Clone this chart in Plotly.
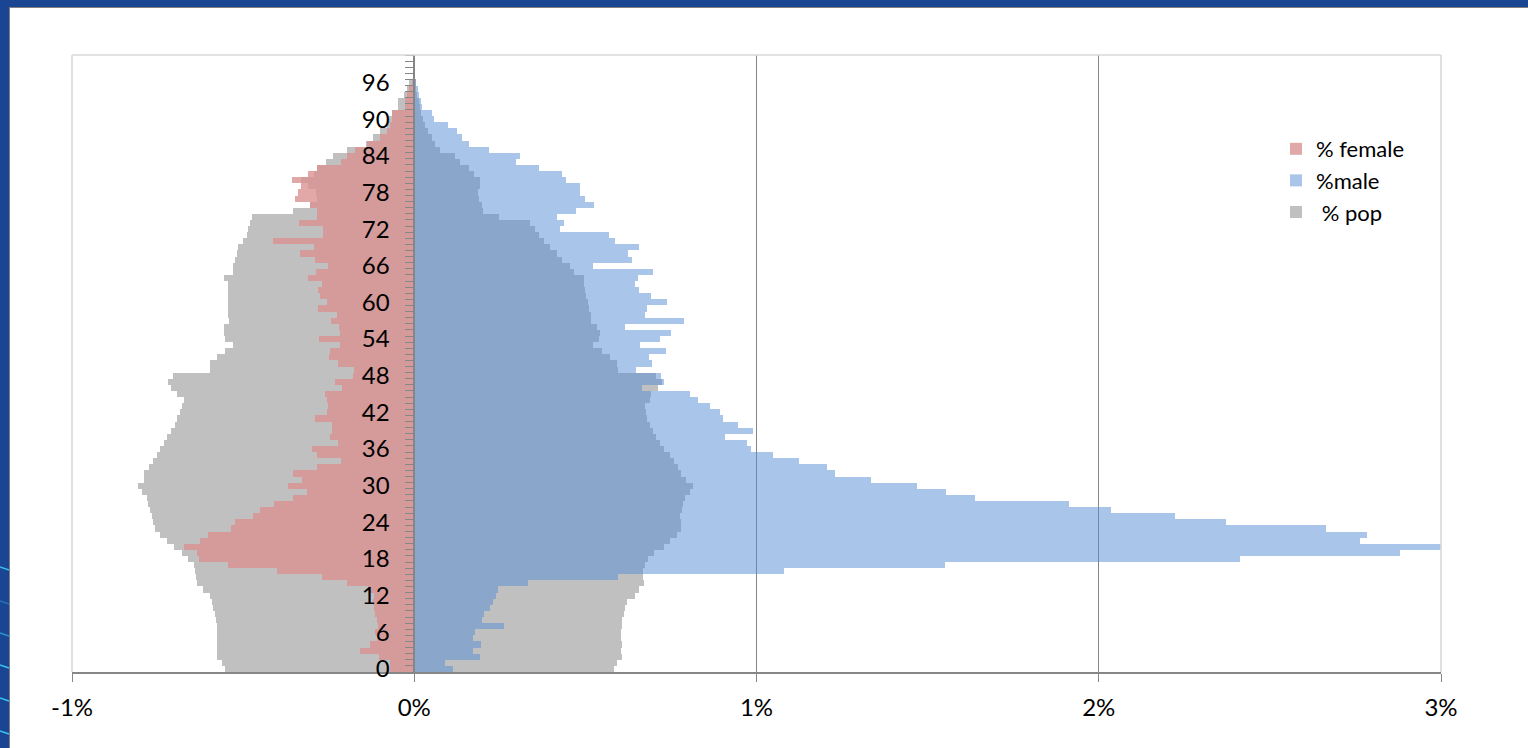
import plotly.graph_objects as go

# ---------------- data (percent of population, by single year of age) ----------------
ages = list(range(0, 101))

pct_female = [0.070, 0.070, 0.104, 0.158, 0.129, 0.109, 0.114, 0.107, 0.109, 0.114,
              0.119, 0.121, 0.119, 0.134, 0.197, 0.270, 0.402, 0.543, 0.628, 0.635,
              0.672, 0.626, 0.604, 0.535, 0.525, 0.470, 0.452, 0.411, 0.353, 0.312,
              0.369, 0.328, 0.353, 0.285, 0.214, 0.285, 0.299, 0.224, 0.246, 0.241,
              0.239, 0.289, 0.255, 0.252, 0.255, 0.260, 0.210, 0.233, 0.180, 0.177,
              0.224, 0.248, 0.246, 0.216, 0.278, 0.216, 0.221, 0.243, 0.226, 0.280,
              0.255, 0.275, 0.280, 0.270, 0.309, 0.287, 0.252, 0.290, 0.333, 0.294,
              0.414, 0.267, 0.267, 0.338, 0.285, 0.285, 0.304, 0.348, 0.340, 0.330,
              0.356, 0.310, 0.285, 0.215, 0.197, 0.172, 0.138, 0.100, 0.080, 0.070,
              0.065, 0.065, 0.026, 0.026, 0.020, 0.014, 0.007, 0.003, 0.0, 0.0, 0.0]

pct_male = [0.113, 0.091, 0.193, 0.171, 0.196, 0.171, 0.178, 0.261, 0.198, 0.203,
            0.220, 0.229, 0.239, 0.245, 0.332, 0.596, 1.081, 1.551, 2.414, 2.880,
            3.008, 2.762, 2.784, 2.665, 2.373, 2.223, 2.037, 1.914, 1.638, 1.553,
            1.468, 1.334, 1.230, 1.205, 1.123, 1.047, 0.984, 0.973, 0.908, 0.989,
            0.946, 0.902, 0.892, 0.865, 0.829, 0.807, 0.666, 0.729, 0.721, 0.649,
            0.695, 0.685, 0.736, 0.660, 0.717, 0.751, 0.615, 0.788, 0.673, 0.680,
            0.739, 0.692, 0.656, 0.644, 0.654, 0.697, 0.522, 0.635, 0.624, 0.656,
            0.588, 0.568, 0.425, 0.437, 0.417, 0.474, 0.524, 0.498, 0.483, 0.483,
            0.442, 0.432, 0.365, 0.298, 0.308, 0.219, 0.159, 0.139, 0.125, 0.098,
            0.057, 0.052, 0.024, 0.020, 0.015, 0.010, 0.005, 0.0, 0.0, 0.0, 0.0]

# reference population, female side (drawn left) and male side (drawn right)
pop_female = [0.553, 0.562, 0.575, 0.577, 0.577, 0.577, 0.577, 0.577, 0.579, 0.582,
              0.587, 0.592, 0.596, 0.616, 0.635, 0.638, 0.640, 0.645, 0.660, 0.679,
              0.703, 0.723, 0.743, 0.757, 0.762, 0.767, 0.772, 0.777, 0.782, 0.796,
              0.806, 0.791, 0.789, 0.774, 0.762, 0.752, 0.743, 0.730, 0.723, 0.711,
              0.699, 0.692, 0.684, 0.679, 0.674, 0.692, 0.711, 0.720, 0.704, 0.598,
              0.596, 0.577, 0.553, 0.530, 0.553, 0.557, 0.556, 0.540, 0.543, 0.545,
              0.545, 0.543, 0.543, 0.545, 0.557, 0.530, 0.530, 0.523, 0.518, 0.514,
              0.500, 0.490, 0.485, 0.480, 0.475, 0.353, 0.304, 0.285, 0.287, 0.310,
              0.330, 0.294, 0.285, 0.257, 0.238, 0.197, 0.140, 0.120, 0.100, 0.080,
              0.075, 0.065, 0.048, 0.048, 0.030, 0.020, 0.015, 0.005, 0.0, 0.0, 0.0]

pop_male = [0.583, 0.591, 0.607, 0.605, 0.607, 0.605, 0.605, 0.607, 0.607, 0.612,
            0.617, 0.622, 0.644, 0.658, 0.671, 0.668, 0.668, 0.675, 0.683, 0.700,
            0.729, 0.747, 0.768, 0.780, 0.778, 0.776, 0.783, 0.786, 0.792, 0.805,
            0.814, 0.794, 0.778, 0.770, 0.758, 0.747, 0.729, 0.719, 0.707, 0.697,
            0.690, 0.680, 0.678, 0.673, 0.690, 0.693, 0.712, 0.724, 0.705, 0.596,
            0.591, 0.573, 0.549, 0.522, 0.541, 0.542, 0.534, 0.517, 0.515, 0.512,
            0.508, 0.502, 0.500, 0.497, 0.497, 0.468, 0.455, 0.432, 0.417, 0.398,
            0.380, 0.364, 0.352, 0.339, 0.249, 0.200, 0.198, 0.188, 0.185, 0.193,
            0.191, 0.175, 0.159, 0.135, 0.120, 0.076, 0.061, 0.052, 0.039, 0.032,
            0.025, 0.020, 0.016, 0.013, 0.008, 0.005, 0.003, 0.0, 0.0, 0.0, 0.0]

age_tick_vals = list(range(0, 97, 6))
x_tick_vals = [-1, 0, 1, 2, 3]
x_tick_text = ["-1%", "0%", "1%", "2%", "3%"]

series_names = ["% female", "%male", " % pop"]

# ---------------- styling ----------------
W, H = 1528, 748
ML, MR, MT, MB = 72, 87, 55, 76
XMIN, XMAX = -1, 3
FONT = "Lato"
GRAY = "#c0c0c0"
PINK = "rgba(218,143,143,0.79)"
BLUE = "rgba(83,141,213,0.5)"
AXIS = "#868686"

fig = go.Figure()

fig.add_trace(go.Bar(y=ages, x=[-v for v in pop_female], orientation="h",
                     marker=dict(color=GRAY, line=dict(width=0)),
                     name=series_names[2], legendrank=3, showlegend=True,
                     legendgroup="pop"))
fig.add_trace(go.Bar(y=ages, x=pop_male, orientation="h",
                     marker=dict(color=GRAY, line=dict(width=0)),
                     name=series_names[2], showlegend=False, legendgroup="pop"))
fig.add_trace(go.Bar(y=ages, x=[-v for v in pct_female], orientation="h",
                     marker=dict(color=PINK, line=dict(width=0)),
                     name=series_names[0], legendrank=1))
fig.add_trace(go.Bar(y=ages, x=pct_male, orientation="h",
                     marker=dict(color=BLUE, line=dict(width=0)),
                     name=series_names[1], legendrank=2))

pw = W - ML - MR
ph = H - MT - MB


def px_x(p):
    return (p - ML) / pw


def px_y(p):
    return (H - MB - p) / ph


shapes = []
# outer slide frame (dark blue strips at top and left)
shapes.append(dict(type="rect", xref="paper", yref="paper",
                   x0=px_x(0), x1=px_x(9), y0=px_y(H), y1=px_y(0),
                   fillcolor="#1a4592", line=dict(width=0), layer="below"))
shapes.append(dict(type="rect", xref="paper", yref="paper",
                   x0=px_x(0), x1=px_x(W), y0=px_y(7), y1=px_y(0),
                   fillcolor="#1a4592", line=dict(width=0), layer="below"))
shapes.append(dict(type="line", xref="paper", yref="paper",
                   x0=px_x(9.5), x1=px_x(9.5), y0=px_y(7), y1=px_y(H),
                   line=dict(color="#7f7f7f", width=1)))
shapes.append(dict(type="line", xref="paper", yref="paper",
                   x0=px_x(9), x1=px_x(W), y0=px_y(7.5), y1=px_y(7.5),
                   line=dict(color="#7f7f7f", width=1)))
# decorative light lines in the frame
for yy, op in [(567, 0.9), (601, 0.35), (633, 0.6), (665, 0.95), (698, 0.95), (731, 0.95)]:
    shapes.append(dict(type="line", xref="paper", yref="paper",
                       x0=px_x(0), x1=px_x(9), y0=px_y(yy), y1=px_y(yy + 3),
                       line=dict(color="rgba(60,200,245,%.2f)" % op, width=1.6)))
# plot area border (light grey) on top, left and right
shapes.append(dict(type="line", xref="paper", yref="paper", x0=0, x1=1, y0=1, y1=1,
                   line=dict(color="#d9d9d9", width=1.6), layer="above"))
shapes.append(dict(type="line", xref="paper", yref="paper", x0=0, x1=0, y0=0, y1=1,
                   line=dict(color="#d9d9d9", width=1.6), layer="above"))
shapes.append(dict(type="line", xref="paper", yref="paper", x0=1, x1=1, y0=0, y1=1,
                   line=dict(color="#d9d9d9", width=1.6), layer="above"))

fig.update_layout(
    width=W, height=H,
    margin=dict(l=ML, r=MR, t=MT, b=MB, pad=0),
    paper_bgcolor="white", plot_bgcolor="white",
    barmode="overlay", bargap=0,
    font=dict(family=FONT, size=24, color="#000000"),
    showlegend=True,
    legend=dict(x=px_x(1276), y=px_y(128), xanchor="left", yanchor="top",
                bgcolor="rgba(0,0,0,0)", font=dict(size=22, family=FONT),
                tracegroupgap=0, itemwidth=30),
    shapes=shapes,
    xaxis=dict(range=[XMIN, XMAX], tickmode="array", tickvals=x_tick_vals,
               ticktext=x_tick_text, showgrid=True, gridcolor=AXIS, gridwidth=1.3,
               zeroline=False, showline=True, linecolor=AXIS, linewidth=1.6,
               ticks="outside", ticklen=8, tickcolor=AXIS, tickwidth=1.3,
               ticklabelstandoff=5, domain=[0, 1]),
    yaxis=dict(range=[-0.5, 100.5], tickmode="array", tickvals=age_tick_vals,
               anchor="free", position=(0 - XMIN) / (XMAX - XMIN),
               showgrid=False, zeroline=False, showline=True, linecolor=AXIS,
               linewidth=1.6, ticks="", ticklabelstandoff=19,
               minor=dict(ticks="outside", ticklen=8, tickcolor=AXIS, tickwidth=1.3,
                          tick0=0.5, dtick=1, showgrid=False)),
)

fig.write_html("out.html",
               config={"displayModeBar": False},
               post_script="document.body.style.margin='0';"
                           "document.body.style.overflow='hidden';")
